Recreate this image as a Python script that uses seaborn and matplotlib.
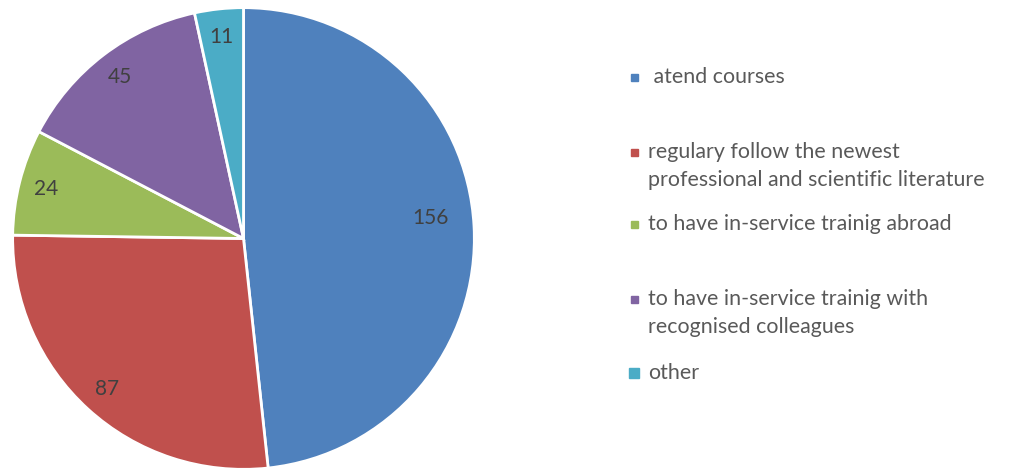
import matplotlib
matplotlib.use("Agg")
import matplotlib.pyplot as plt
import seaborn as sns
from matplotlib.patches import Rectangle

categories = [" atend courses",
              "regulary follow the newest\nprofessional and scientific literature",
              "to have in-service trainig abroad",
              "to have in-service trainig with\nrecognised colleagues",
              "other"]
values = [156, 87, 24, 45, 11]
colors = ["#4F81BD", "#C0504D", "#9BBB59", "#8064A2", "#4BACC6"]

sns.set_theme(style="white")
plt.rcParams['font.family'] = ['Lato', 'DejaVu Sans']

W, H = 1011, 472
fig = plt.figure(figsize=(W / 100, H / 100), dpi=100)
cx, cy, r = 243.5, 472 - 238.5, 232
ax = fig.add_axes([(cx - r) / W, (cy - r) / H, 2 * r / W, 2 * r / H])

wedges, texts, autotexts = ax.pie(
    values, colors=colors, startangle=90, counterclock=False,
    autopct=lambda p: f"{p * sum(values) / 100:.0f}", pctdistance=0.88,
    wedgeprops=dict(edgecolor="white", linewidth=2),
    textprops=dict(color="#404040", fontsize=15))
autotexts[0].set_position((0.81, 0.09))
ax.set_xlim(-1.005, 1.005)
ax.set_ylim(-1.005, 1.005)
ax.set_aspect("equal")
ax.axis("off")

# legend (manual placement)
rows = [77, 152, 224, 299, 373]
fs = 15.4
for i, (lab, y) in enumerate(zip(categories, rows)):
    s = 10 if i == 4 else 7
    mx = 629 if i == 4 else 631
    fig.patches.append(Rectangle((mx / W, (H - y - s / 2) / H), s / W, s / H,
                                 transform=fig.transFigure, color=colors[i], figure=fig))
    for k, line in enumerate(lab.split("\n")):
        fig.text(648 / W, (H - y - 28 * k) / H, line, ha="left", va="center",
                 fontsize=fs, color="#595959")

fig.savefig("out.png", dpi=100, facecolor="white")
